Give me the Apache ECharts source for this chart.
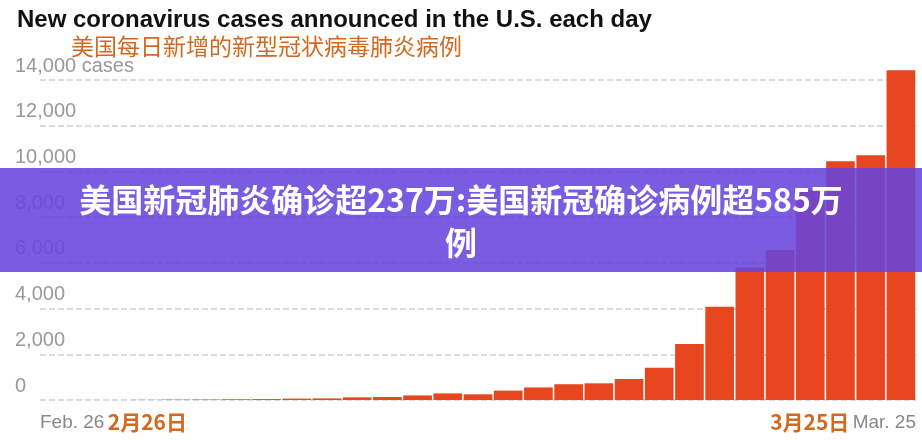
<!DOCTYPE html>
<html><head><meta charset="utf-8">
<script src="https://cdn.jsdelivr.net/npm/echarts@6/dist/echarts.min.js"></script>
<style>html,body{margin:0;padding:0;background:#fff}#chart{width:922px;height:440px}</style>
</head><body><div id="chart"></div>
<script>
const days = ['2/26','2/27','2/28','2/29','3/1','3/2','3/3','3/4','3/5','3/6','3/7','3/8','3/9','3/10','3/11','3/12','3/13','3/14','3/15','3/16','3/17','3/18','3/19','3/20','3/21','3/22','3/23','3/24','3/25'];
const cases = [1, 2, 1, 5, 15, 20, 30, 40, 60, 70, 115, 130, 200, 290, 250, 410, 550, 690, 730, 920, 1410, 2450, 4080, 5800, 6560, 9200, 10450, 10710, 14430];
const yTicks = [0, 2000, 4000, 6000, 8000, 10000, 12000, 14000];
const startLabel = ['Feb. 26', '2月26日'];
const endLabel = ['3月25日', 'Mar. 25'];

const chart = echarts.init(document.getElementById('chart'));
const orange = '#e8461e';

chart.setOption({
  animation: false,
  title: [{
    text: 'New coronavirus cases announced in the U.S. each day',
    left: 12, top: 3,
    textStyle: {fontFamily: 'Liberation Sans', fontWeight: 'bold', fontSize: 24, color: '#111'}
  }, {
    text: '美国每日新增的新型冠状病毒肺炎病例',
    left: 66, top: 30,
    textStyle: {fontFamily: 'Noto Sans CJK SC', fontWeight: 'normal', fontSize: 23, color: '#d2691e'}
  }],
  grid: {left: 40, right: 6, top: 80, bottom: 40},
  xAxis: [{
    type: 'category', data: days,
    axisLine: {show: false}, axisTick: {show: false}, axisLabel: {show: false}
  }, {
    type: 'value', min: 0, max: 29, interval: 29, position: 'bottom',
    axisLine: {show: false}, axisTick: {show: false}, splitLine: {show: false},
    axisLabel: {
      alignMinLabel: 'left', alignMaxLabel: 'right', margin: 12,
      formatter: v => v === 0 ? '{g|' + startLabel[0] + '} {o|' + startLabel[1] + '}'
                              : '{o|' + endLabel[0] + '} {g|' + endLabel[1] + '}',
      rich: {
        g: {fontFamily: 'Liberation Sans', fontSize: 19, color: '#888'},
        o: {fontFamily: 'Noto Sans CJK SC', fontSize: 21, fontWeight: 'bold', color: '#d2691e'}
      }
    }
  }],
  yAxis: {
    type: 'value', min: 0, max: 14000, interval: 2000,
    axisLine: {show: false}, axisTick: {show: false},
    splitLine: {lineStyle: {type: 'dashed', color: '#d0d0d0', width: 1.5}},
    axisLabel: {
      align: 'left', margin: 25, verticalAlign: 'bottom', padding: [0, 0, 4, 0],
      fontFamily: 'Liberation Sans', fontSize: 20, color: '#999',
      formatter: v => yTicks.includes(v) ? (v === 14000 ? v.toLocaleString('en-US') + ' cases' : v.toLocaleString('en-US')) : ''
    }
  },
  series: [{
    type: 'bar', data: cases, xAxisIndex: 0, clip: false,
    barCategoryGap: '5%',
    itemStyle: {color: orange}
  }],
  graphic: [{
    type: 'rect', left: 0, top: 168, z: 100,
    shape: {width: 922, height: 104},
    style: {fill: 'rgba(102,70,220,0.88)'}
  }, {
    type: 'text', x: 461, y: 178, z: 101,
    style: {
      text: '美国新冠肺炎确诊超237万:美国新冠确诊病例超585万\n例',
      fill: '#fff', fontFamily: 'Noto Sans CJK SC', fontWeight: 'bold', fontSize: 32,
      lineHeight: 43, align: 'center'
    }
  }]
});
</script>
</body></html>
